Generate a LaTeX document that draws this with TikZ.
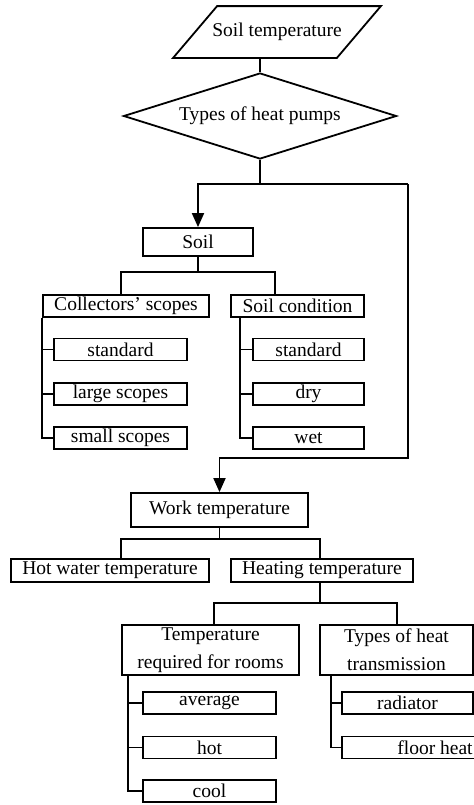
\documentclass[tikz,border=0pt]{standalone}
\usepackage{fontspec}
\setmainfont{Liberation Serif}
\usetikzlibrary{shapes.geometric, arrows.meta, positioning}

\begin{document}
\begin{tikzpicture}[
    x=0.5pt, y=-0.5pt,
    line width=0.9pt,
    font=\fontsize{9.75}{14}\selectfont,
    wd/.style={minimum width=#1*0.5pt},
    block/.style={rectangle, draw, inner sep=0pt, align=center,
                  minimum height=#1*0.5pt},
    block/.default=22,
    inout/.style={rectangle, inner sep=0pt, minimum width=81pt,
                  minimum height=25pt},
    decision/.style={diamond, draw, inner sep=0pt, aspect=3,
                     minimum width=136.5pt, minimum height=43pt},
    arr/.style={-{Triangle[length=7pt, width=6pt]}},
]
\useasboundingbox (0,0) rectangle (474,805);

\node[inout] (soiltemp) at (277,32) {Soil temperature};
\draw ([xshift=-11pt]soiltemp.south west) -- ([xshift=11pt]soiltemp.north west)
  -- ([xshift=11pt]soiltemp.north east) -- ([xshift=-11pt]soiltemp.south east)
  -- cycle;
\node[decision] (pumps) at (260,116) {Types of heat pumps};

\node[block=28, wd=110] (soil) at (198,242) {Soil};
\node[block, wd=166] (coll) at (126,306) {Collectors' scopes};
\node[block, wd=133] (cond) at (297.5,306) {Soil condition};
\node[block, wd=133] (std1) at (120.5,349.5) {standard};
\node[block, wd=133] (large) at (120.5,394) {large scopes};
\node[block, wd=133] (small) at (120.5,438) {small scopes};
\node[block, wd=111] (std2) at (308.5,349.5) {standard};
\node[block, wd=111] (dry) at (308.5,394) {dry};
\node[block, wd=111] (wet) at (308.5,438) {wet};

\node[block=34, wd=177] (work) at (219.5,510) {Work temperature};
\node[block=23, wd=198] (hotw) at (110,570.5) {Hot water temperature};
\node[block=23, wd=182] (heat) at (322,570.5) {Heating temperature};
\node[block=50, wd=177] (troom) at (210.5,650)
  {Temperature\\required for rooms};
\node[block=50, wd=153] (ttrans) at (396.5,650)
  {Types of heat\\transmission};
\node[block, wd=133] (avg) at (209.5,703) {average};
\node[block, wd=133] (hot) at (209.5,747.5) {hot};
\node[block, wd=133] (cool) at (209.5,791) {cool};
\node[block, wd=131] (rad) at (407.5,703) {radiator};
\node[block, wd=186] (floor) at (435,747.5) {floor heat};

\coordinate (jl) at (198,184);
\coordinate (jr) at (408,184);
\coordinate (jb) at (408,458);
\draw (soiltemp.south -| pumps.north) -- (pumps.north);
\draw (pumps.south) -- (pumps.south |- jl);
\draw[arr] (jr) -- (jl) -- (soil.north);
\draw[arr] (jr) -- (jb) -| (work.north);

\coordinate (s1) at (121,272);
\coordinate (s2) at (275,272);
\draw (soil.south) -- (soil.south |- s1);
\draw (s1 |- coll.north) -- (s1) -- (s2) -- (s2 |- cond.north);
\foreach \n in {std1, large, small}
  \draw (coll.south west) |- (\n.west);
\foreach \n in {std2, dry, wet}
  \draw ([xshift=5pt]cond.south west) |- (\n.west);

\coordinate (w1) at (121,539);
\coordinate (w2) at (320,539);
\draw (work.south) -- (work.south |- w1);
\draw (w1 |- hotw.north) -- (w1) -- (w2) -- (w2 |- heat.north);

\coordinate (h1) at (214,603);
\coordinate (h2) at (397,603);
\draw (w2 |- heat.south) -- (w2 |- h1);
\draw (h1 |- troom.north) -- (h1) -- (h2) -- (h2 |- ttrans.north);
\foreach \n in {avg, hot, cool}
  \draw ([xshift=3.5pt]troom.south west) |- (\n.west);
\foreach \n in {rad, floor}
  \draw ([xshift=6pt]ttrans.south west) |- (\n.west);
\end{tikzpicture}
\end{document}
